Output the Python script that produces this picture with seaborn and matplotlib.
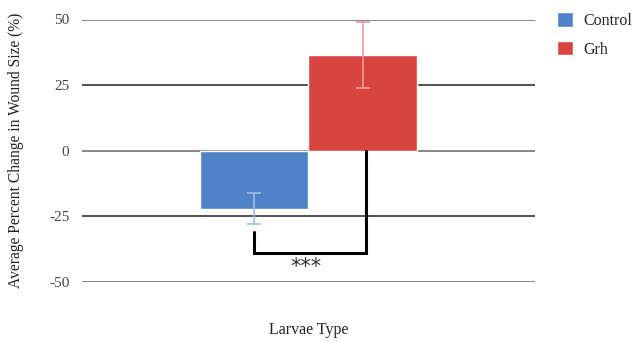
import matplotlib
matplotlib.use("Agg")
import matplotlib.pyplot as plt
import seaborn as sns
import pandas as pd

groups = ["Control", "Grh"]
mean_change = [-22.0, 36.5]
error = [6.0, 12.7]
y_ticks = [-50, -25, 0, 25, 50]
bar_colors = ["#5082c8", "#d8453f"]
err_colors = ["#9dbde6", "#ee9a98"]

sns.set_theme(style="white")
plt.rcParams["font.family"] = ["Liberation Serif", "DejaVu Serif"]

df = pd.DataFrame({"type": ["Larvae Type"] * 2, "group": groups, "value": mean_change})

fig = plt.figure(figsize=(6.41, 3.42), dpi=100)
ax = fig.add_axes([82 / 641, 1 - 282 / 342, (535 - 82) / 641, (282 - 19.5) / 342])

sns.barplot(data=df, x="type", y="value", hue="group", hue_order=groups,
            palette=bar_colors, width=0.48, ax=ax, errorbar=None, legend=True,
            saturation=1, zorder=3)

# error bars centred on each bar
for patch, m, e, c in zip(ax.patches[:2], mean_change, error, err_colors):
    cx = patch.get_x() + patch.get_width() / 2
    ax.errorbar(cx, m, yerr=e, fmt="none", ecolor=c, elinewidth=1.2,
                capsize=5, capthick=1.2, zorder=4)

# significance bracket between the groups
p0, p1 = ax.patches[0], ax.patches[1]
xl = p0.get_x() + p0.get_width() / 2
xr = p1.get_x() + p1.get_width() / 2 + 0.008
ax.plot([xl, xl, xr, xr], [-31, -39, -39, 0], color="black", lw=2.2,
        zorder=5, solid_joinstyle="miter")
ax.text((xl + xr) / 2 - 0.01, -40.5, "***", ha="center", va="top", fontsize=15,
        color="#333333", family="DejaVu Sans")

ax.set_xlim(-0.5, 0.5)
ax.set_ylim(-50, 50)
ax.set_yticks(y_ticks)
ax.set_yticklabels([str(t) for t in y_ticks], fontsize=11, color="#444444")
for t in y_ticks:
    ax.axhline(t, color="#222222" if t not in (-50, 0, 50) else "#666666",
               lw=1.1, zorder=1)
ax.set_xticks([])
ax.set_xlabel("Larvae Type", fontsize=11.5, labelpad=29, color="#222222")
ax.set_ylabel("Average Percent Change in Wound Size (%)", fontsize=11.2,
              color="#222222", labelpad=18)
ax.tick_params(axis="y", length=0, pad=9)
for s in ax.spines.values():
    s.set_visible(False)

leg = ax.legend(loc="upper left", frameon=False, fontsize=11.5,
                handlelength=1.0, handleheight=1.0, labelspacing=0.75,
                handletextpad=0.6, borderaxespad=0)
leg.set_bbox_to_anchor((551 / 641, 1 - 6 / 342), transform=fig.transFigure)

fig.savefig("out.png", dpi=100)
